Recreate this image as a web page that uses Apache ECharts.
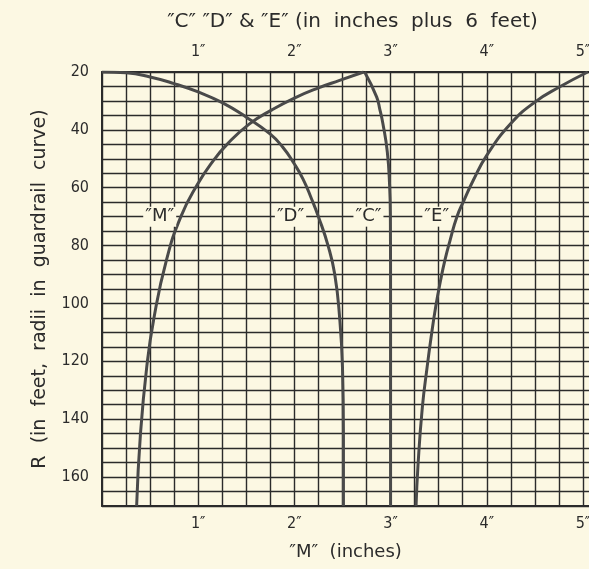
<!DOCTYPE html>
<html><head><meta charset="utf-8">
<script src="https://cdn.jsdelivr.net/npm/echarts@6/dist/echarts.min.js"></script>
<style>html,body{margin:0;padding:0;background:#fcf8e3}#c{width:589px;height:569px}</style>
</head><body><div id="c"></div>
<script>
// Curve "M" (inches) vs R (feet)
const mR = [20, 22.9, 25.5, 29, 33, 38, 45, 51, 59, 70, 85, 105, 122, 145, 170];
const mX = [2.72, 2.47, 2.25, 2.0, 1.77, 1.53, 1.30, 1.15, 0.99, 0.82, 0.67, 0.54, 0.465, 0.40, 0.36];
// Curve "D" (inches plus 6 feet)
const dR = [20, 20.3, 21.7, 24, 26.9, 30.6, 35.6, 41.5, 46, 51.3, 57, 64, 70, 80, 90, 104.7, 122, 145, 170];
const dX = [0, 0.25, 0.5, 0.75, 1.0, 1.25, 1.5, 1.75, 1.88, 1.99, 2.09, 2.18, 2.25, 2.35, 2.42, 2.47, 2.50, 2.51, 2.51];
// Curve "C"
const cR = [20, 28.6, 33.2, 37.8, 47.6, 59.2, 70, 100, 170];
const cX = [2.73, 2.855, 2.89, 2.92, 2.966, 2.99, 2.998, 3.0, 3.0];
// Curve "E"
const eR = [20, 25.2, 30.4, 37.8, 48.8, 57.4, 64.6, 70, 78, 85, 92, 101, 112, 122, 136, 156, 170];
const eX = [5.05, 4.755, 4.50, 4.25, 4.0, 3.86, 3.76, 3.69, 3.62, 3.565, 3.52, 3.47, 3.42, 3.38, 3.33, 3.285, 3.265];
// Curve name labels along the R = 70 grid line
const labelNames = ['\u2033M\u2033', '\u2033D\u2033', '\u2033C\u2033', '\u2033E\u2033'];
const labelX = [0.60, 1.96, 2.77, 3.48];
const labelR = [70, 70, 70, 70];
// Tick labels
const xTickLabels = [1, 2, 3, 4, 5];
const yTickLabels = [20, 40, 60, 80, 100, 120, 140, 160];

const paper = '#fcf8e3';
const ink = '#2b2b2b';
const curveColor = '#4a4a4a';
const tickFont = '"Liberation Sans Narrow","DejaVu Sans Condensed","Liberation Sans",sans-serif';
const titleFont = '"DejaVu Sans","Noto Sans",sans-serif';

const pairs = (xs, rs) => xs.map((x, i) => [x, rs[i]]);
const xFmt = v => (xTickLabels.indexOf(Math.round(v * 100) / 100) >= 0 ? v + '\u2033' : '');
const yFmt = v => (yTickLabels.indexOf(v) >= 0 ? String(v) : '');

const curve = (name, data) => ({
  name, type: 'line', data, smooth: 0.5, symbol: 'none',
  lineStyle: { color: curveColor, width: 3 }, z: 3
});

const chart = echarts.init(document.getElementById('c'));
chart.setOption({
  backgroundColor: paper,
  animation: false,
  grid: { left: 102, top: 72, width: 505, height: 434, containLabel: false, outerBoundsMode: 'none' },
  xAxis: [
    {
      type: 'value', position: 'bottom', min: 0, max: 5.25, interval: 0.25,
      name: '\u2033M\u2033  (inches)', nameLocation: 'middle', nameGap: 37,
      nameTextStyle: { fontFamily: titleFont, fontSize: 18, color: ink, padding: [0, 18, 0, 0] },
      axisLine: { show: true, lineStyle: { color: ink, width: 2 } },
      axisTick: { show: false },
      axisLabel: { formatter: xFmt, fontFamily: tickFont, fontSize: 16, color: ink, margin: 10 },
      splitLine: { show: true, lineStyle: { color: ink, width: 1.4 } }
    },
    {
      type: 'value', position: 'top', min: 0, max: 5.25, interval: 0.25,
      name: '\u2033C\u2033 \u2033D\u2033 & \u2033E\u2033 (in  inches  plus  6  feet)',
      nameLocation: 'middle', nameGap: 40,
      nameTextStyle: { fontFamily: titleFont, fontSize: 20, color: ink, padding: [0, 4, 0, 0] },
      axisLine: { show: true, lineStyle: { color: ink, width: 2 } },
      axisTick: { show: false },
      axisLabel: { formatter: xFmt, fontFamily: tickFont, fontSize: 16, color: ink, margin: 12 },
      splitLine: { show: false }
    }
  ],
  yAxis: {
    type: 'value', inverse: true, min: 20, max: 170, interval: 5,
    name: 'R  (in  feet,  radii  in  guardrail  curve)', nameLocation: 'middle', nameGap: 52,
    nameRotate: 90,
    nameTextStyle: { fontFamily: titleFont, fontSize: 19, color: ink },
    axisLine: { show: true, lineStyle: { color: ink, width: 2 } },
    axisTick: { show: false },
    axisLabel: { formatter: yFmt, fontFamily: tickFont, fontSize: 16, color: ink, margin: 13 },
    splitLine: { show: true, lineStyle: { color: ink, width: 1.4 } }
  },
  series: [
    curve('M', pairs(mX, mR)),
    curve('D', pairs(dX, dR)),
    curve('C', pairs(cX, cR)),
    curve('E', pairs(eX, eR)),
    {
      type: 'scatter', symbolSize: 0, z: 5,
      itemStyle: { opacity: 1 },
      data: labelX.map((x, i) => ({ value: [x, labelR[i]], name: labelNames[i] })),
      label: {
        show: true, position: 'inside', formatter: p => p.name,
        fontFamily: titleFont, fontSize: 18, color: ink, opacity: 1,
        backgroundColor: paper, padding: [1, 2, 1, 2]
      }
    }
  ]
});
</script></body></html>
